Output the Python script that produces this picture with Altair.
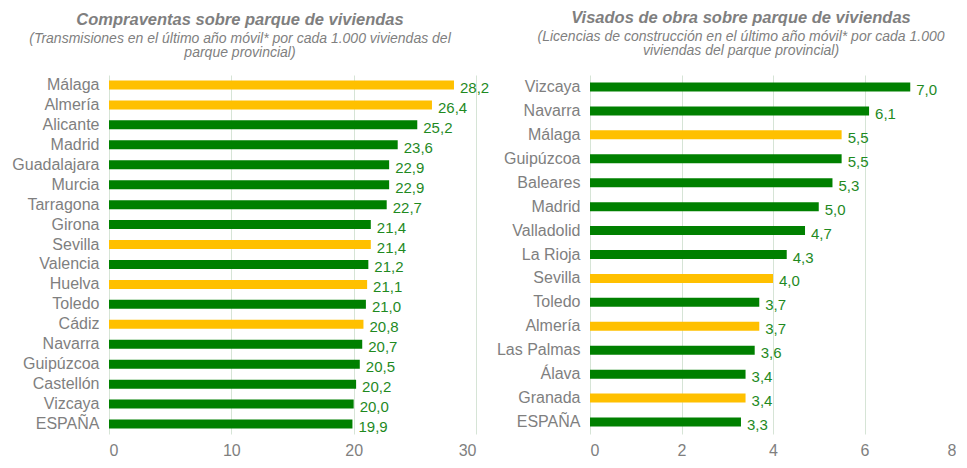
import altair as alt
import pandas as pd

left_cats = ["Málaga", "Almería", "Alicante", "Madrid", "Guadalajara", "Murcia",
             "Tarragona", "Girona", "Sevilla", "Valencia", "Huelva", "Toledo",
             "Cádiz", "Navarra", "Guipúzcoa", "Castellón", "Vizcaya", "ESPAÑA"]
left_vals = [28.2, 26.4, 25.2, 23.6, 22.9, 22.9, 22.7, 21.4, 21.4, 21.2, 21.1,
             21.0, 20.8, 20.7, 20.5, 20.2, 20.0, 19.9]
left_group = ["and", "and", "otra", "otra", "otra", "otra", "otra", "otra", "and",
              "otra", "and", "otra", "and", "otra", "otra", "otra", "otra", "otra"]

right_cats = ["Vizcaya", "Navarra", "Málaga", "Guipúzcoa", "Baleares", "Madrid",
              "Valladolid", "La Rioja", "Sevilla", "Toledo", "Almería", "Las Palmas",
              "Álava", "Granada", "ESPAÑA"]
right_vals = [7.0, 6.1, 5.5, 5.5, 5.3, 5.0, 4.7, 4.3, 4.0, 3.7, 3.7, 3.6, 3.4, 3.4, 3.3]
right_group = ["otra", "otra", "and", "otra", "otra", "otra", "otra", "otra", "and",
               "otra", "and", "otra", "otra", "and", "otra"]

left_ticks = [0, 10, 20, 30]
right_ticks = [0, 2, 4, 6, 8]

GREEN = "#008000"
YELLOW = "#FFC000"
LABEL_GREEN = "#1f8a1f"
GRAY = "#7f7f7f"
GRID = "#d6e4d6"
FONT = "Liberation Sans"


def panel(cats, vals, groups, ticks, width, height, title, subtitle, toff, extent, dx):
    df = pd.DataFrame({"cat": cats, "val": vals, "grp": groups})
    base = alt.Chart(df).transform_calculate(
        lbl="replace(format(datum.val, '.1f'), '.', ',')"
    )
    y = alt.Y("cat:N", sort=cats, title=None,
              axis=alt.Axis(labelFontSize=16, labelColor=GRAY, labelFont=FONT,
                            ticks=False, domain=False, labelPadding=10,
                            minExtent=extent, maxExtent=extent, grid=False))
    x = alt.X("val:Q", title=None,
              scale=alt.Scale(domain=[ticks[0], ticks[-1]], nice=False),
              axis=alt.Axis(values=ticks, labelFontSize=16, labelColor=GRAY,
                            labelFont=FONT, ticks=False, domain=False,
                            labelPadding=8, grid=True, gridColor=GRID,
                            gridWidth=1))
    bars = base.mark_bar(size=9).encode(
        x=x, y=y,
        color=alt.Color("grp:N", scale=alt.Scale(domain=["and", "otra"],
                                                 range=[YELLOW, GREEN]),
                        legend=None),
    )
    text = base.mark_text(align="left", baseline="middle", dx=6, dy=3,
                          fontSize=15, font=FONT, color=LABEL_GREEN).encode(
        x="val:Q", y=alt.Y("cat:N", sort=cats), text="lbl:N"
    )
    return (bars + text).properties(
        width=width, height=height,
        title=alt.TitleParams(text=title, subtitle=subtitle, font=FONT,
                              fontSize=16.5, fontStyle="italic", fontWeight="bold",
                              color=GRAY, subtitleFont=FONT, subtitleFontSize=14,
                              subtitleFontStyle="italic", subtitleColor=GRAY,
                              subtitlePadding=3, anchor="start", frame="group",
                              align="center", offset=toff,
                              dx=dx, subtitleLineHeight=14.5)
    )


left = panel(left_cats, left_vals, left_group, left_ticks, 367, 359,
             "Compraventas sobre parque de viviendas",
             ["(Transmisiones en el último año móvil* por cada 1.000 viviendas del",
              "parque provincial)"], 15, 101, 131)
right = panel(right_cats, right_vals, right_group, right_ticks, 366, 359,
              "Visados de obra sobre parque de viviendas",
              ["(Licencias de construcción en el último año móvil* por cada 1.000",
               "viviendas del parque provincial)"], 17, 94, 151)

chart = alt.hconcat(left, right, spacing=6).properties(
    padding={"left": 0, "top": 2, "right": 0, "bottom": 0}
).configure_view(stroke=None).resolve_scale(color="shared")

chart.save("out.html", embed_options={"renderer": "svg", "actions": False})
